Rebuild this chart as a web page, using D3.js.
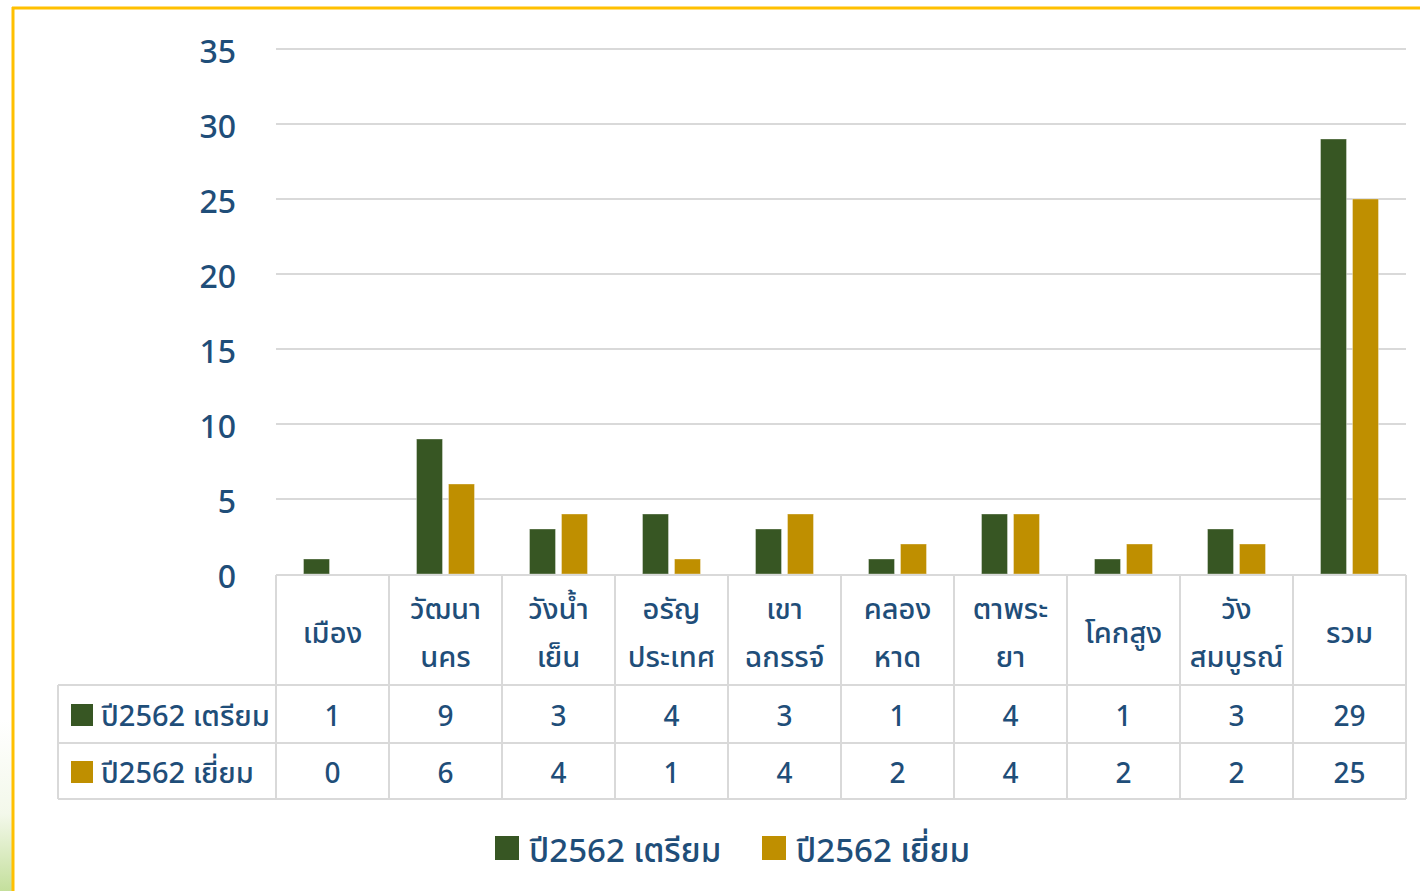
<!DOCTYPE html>
<html><head><meta charset="utf-8">
<script src="https://cdn.jsdelivr.net/npm/d3@7"></script>
<style>
html,body{margin:0;padding:0;background:#fff;}
svg{display:block;}
text{font-family:"Noto Sans","Noto Sans Thai","DejaVu Sans",sans-serif;fill:#1f4e79;font-weight:500;}
</style></head>
<body>
<svg id="chart" width="1420" height="891"></svg>
<script>
const categories = ["เมือง","วัฒนา\nนคร","วังน้ำ\nเย็น","อรัญ\nประเทศ","เขา\nฉกรรจ์","คลอง\nหาด","ตาพระ\nยา","โคกสูง","วัง\nสมบูรณ์","รวม"];
const seriesNames = ["ปี2562 เตรียม","ปี2562 เยี่ยม"];
const prepValues = [1,9,3,4,3,1,4,1,3,29];
const visitValues = [0,6,4,1,4,2,4,2,2,25];
const yTicks = [0,5,10,15,20,25,30,35];
const colors = ["#375623","#bf8f00"];

const series = [prepValues, visitValues];
const svg = d3.select("#chart");

// background gradient strip and frame
const defs = svg.append("defs");
const lg = defs.append("linearGradient").attr("id","lg").attr("x1",0).attr("y1",0).attr("x2",0).attr("y2",1);
lg.append("stop").attr("offset","0").attr("stop-color","#ffffff");
lg.append("stop").attr("offset","0.55").attr("stop-color","#f3f8ea");
lg.append("stop").attr("offset","1").attr("stop-color","#c4df9c");
svg.append("rect").attr("x",0).attr("y",720).attr("width",12).attr("height",171).attr("fill","url(#lg)");
svg.append("line").attr("x1",13).attr("x2",13).attr("y1",7).attr("y2",891).attr("stroke","#ffc000").attr("stroke-width",3);
svg.append("line").attr("x1",12).attr("x2",1420).attr("y1",8).attr("y2",8).attr("stroke","#ffc000").attr("stroke-width",3);

const left = 276, right = 1406;
const x = d3.scaleBand().domain(categories).range([left,right]).paddingInner(0).paddingOuter(0);
const x1 = d3.scaleBand().domain([0,1]).range([0,x.bandwidth()]).paddingInner(0.1875).paddingOuter(0.86);
const y = d3.scaleLinear().domain([0,35]).range([574,49]);

const grid = "#d9d9d9";
// gridlines
svg.append("g").selectAll("line").data(yTicks.filter(d=>d>0)).join("line")
  .attr("x1",left).attr("x2",right).attr("y1",d=>y(d)).attr("y2",d=>y(d))
  .attr("stroke",grid).attr("stroke-width",2);

// y labels
const yAxis = d3.axisLeft(y).tickValues(yTicks).tickSize(0).tickPadding(0);
const ya = svg.append("g").attr("transform","translate(236,0)").call(yAxis);
ya.select(".domain").remove();
ya.selectAll("text").attr("font-size",32).style("font-family",'"Noto Sans",sans-serif').attr("fill","#1f4e79").attr("dy","0.42em");

// bars
const gBars = svg.append("g");
series.forEach((vals,si)=>{
  gBars.selectAll(null).data(vals.map((v,i)=>({v,c:categories[i]}))).join("rect")
    .filter(d=>d.v>0)
    .attr("x",d=>x(d.c)+x1(si)).attr("width",x1.bandwidth())
    .attr("y",d=>y(d.v)).attr("height",d=>y(0)-y(d.v))
    .attr("fill",colors[si]).attr("stroke","rgba(255,255,255,0.35)").attr("stroke-width",1);
});

// data table
const tableLeft = 58;
const t = svg.append("g");
t.append("line").attr("x1",left).attr("x2",right).attr("y1",575).attr("y2",575).attr("stroke",grid).attr("stroke-width",2);
[685,743,799].forEach(yy=>{
  t.append("line").attr("x1",tableLeft).attr("x2",right).attr("y1",yy).attr("y2",yy).attr("stroke",grid).attr("stroke-width",2);
});
const vx = categories.map(c=>x(c)).concat([right]);
vx.forEach(xx=>{
  t.append("line").attr("x1",xx).attr("x2",xx).attr("y1",575).attr("y2",799).attr("stroke",grid).attr("stroke-width",2);
});
t.append("line").attr("x1",tableLeft).attr("x2",tableLeft).attr("y1",685).attr("y2",799).attr("stroke",grid).attr("stroke-width",2);

// header labels
categories.forEach(c=>{
  const lines = c.split("\n");
  const cx = x(c)+x.bandwidth()/2;
  const centers = lines.length===1 ? [633] : [609,657];
  lines.forEach((ln,i)=>{
    t.append("text").attr("x",cx).attr("y",centers[i]).attr("dy","0.35em")
      .attr("text-anchor","middle").attr("font-size",29).text(ln);
  });
});
// row values
const rowCenters = [716,773];
series.forEach((vals,si)=>{
  t.selectAll(null).data(vals).join("text")
    .attr("x",(d,i)=>x(categories[i])+x.bandwidth()/2).attr("y",rowCenters[si]).attr("dy","0.36em")
    .attr("text-anchor","middle").attr("font-size",28).text(d=>d);
  t.append("rect").attr("x",71).attr("y",rowCenters[si]-12).attr("width",22).attr("height",22).attr("fill",colors[si]);
  t.append("text").attr("x",101).attr("y",rowCenters[si]).attr("dy","0.36em").attr("font-size",29).text(seriesNames[si]);
});

// legend
const legX = [495,762];
seriesNames.forEach((n,si)=>{
  svg.append("rect").attr("x",legX[si]).attr("y",836).attr("width",24).attr("height",24).attr("fill",colors[si]);
  svg.append("text").attr("x",legX[si]+34).attr("y",850).attr("dy","0.36em").attr("font-size",33).text(n);
});
</script>
</body></html>
